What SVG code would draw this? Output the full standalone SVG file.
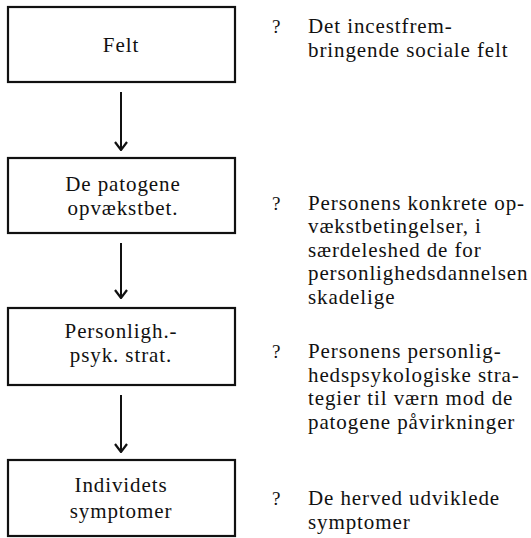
<svg xmlns="http://www.w3.org/2000/svg" width="531" height="538" viewBox="0 0 531 538">
  <style>
    text { font-family: "Liberation Serif", "Times New Roman", serif; font-size: 21px; letter-spacing: 0.9px; fill: #111; }
    .box { fill: #fff; stroke: #111; stroke-width: 2.2; }
    .lbl { text-anchor: middle; }
    .q { font-size: 19px; letter-spacing: 0; }
    .link { stroke: #111; stroke-width: 2; fill: none; }
  </style>
  <defs>
    <marker id="chev" viewBox="0 0 10 14" refX="9" refY="7" markerWidth="10" markerHeight="14" markerUnits="userSpaceOnUse" orient="auto">
      <path d="M1,1 L9,7 L1,13" fill="none" stroke="#111" stroke-width="2.2"/>
    </marker>
  </defs>
  <rect width="531" height="538" fill="#fff"/>

  <!-- chain of stages -->
  <g id="node-felt">
    <rect class="box" x="8" y="7" width="227" height="75"/>
    <text class="lbl" x="121" y="52">Felt</text>
  </g>
  <g id="node-opvaekst">
    <rect class="box" x="8" y="158" width="227" height="75"/>
    <text class="lbl" x="123" y="191">De patogene</text>
    <text class="lbl" x="123" y="215">opvækstbet.</text>
  </g>
  <g id="node-strat">
    <rect class="box" x="8" y="308" width="227" height="77"/>
    <text class="lbl" x="121" y="338">Personligh.-</text>
    <text class="lbl" x="121" y="362">psyk. strat.</text>
  </g>
  <g id="node-symptomer">
    <rect class="box" x="8" y="460" width="227" height="76"/>
    <text class="lbl" x="121" y="492">Individets</text>
    <text class="lbl" x="121" y="518">symptomer</text>
  </g>

  <g id="connectors">
    <line class="link" x1="121" y1="92" x2="121" y2="150" marker-end="url(#chev)"/>
    <line class="link" x1="121" y1="243" x2="121" y2="298" marker-end="url(#chev)"/>
    <line class="link" x1="121" y1="395" x2="121" y2="452" marker-end="url(#chev)"/>
  </g>

  <!-- explanations -->
  <g id="note-felt">
    <text class="q" x="272" y="33">?</text>
    <text x="308" y="33">Det incestfrem-</text>
    <text x="308" y="57">bringende sociale felt</text>
  </g>
  <g id="note-opvaekst">
    <text class="q" x="272" y="210">?</text>
    <text x="308" y="210">Personens konkrete op-</text>
    <text x="308" y="233.4">vækstbetingelser, i</text>
    <text x="308" y="256.8">særdeleshed de for</text>
    <text x="308" y="280.2">personlighedsdannelsen</text>
    <text x="308" y="303.6">skadelige</text>
  </g>
  <g id="note-strat">
    <text class="q" x="272" y="358">?</text>
    <text x="308" y="358">Personens personlig-</text>
    <text x="308" y="381.5">hedspsykologiske stra-</text>
    <text x="308" y="405">tegier til værn mod de</text>
    <text x="308" y="428.5">patogene påvirkninger</text>
  </g>
  <g id="note-symptomer">
    <text class="q" x="272" y="505">?</text>
    <text x="308" y="505">De herved udviklede</text>
    <text x="308" y="528.5">symptomer</text>
  </g>
</svg>
